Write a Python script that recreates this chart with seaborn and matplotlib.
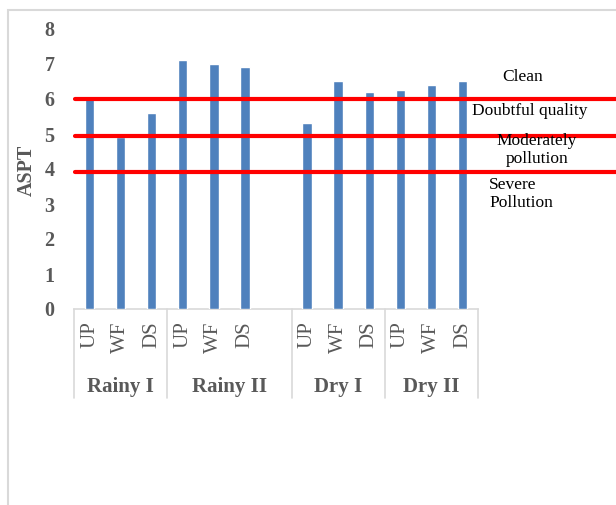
import numpy as np
import pandas as pd
import matplotlib
matplotlib.use("Agg")
import matplotlib.pyplot as plt
import matplotlib.transforms as mtransforms
from matplotlib.patches import Rectangle
import seaborn as sns

# Seasons and sampling stations; Rainy II carries one blank slot after DS
seasons = ["Rainy I", "Rainy II", "Dry I", "Dry II"]
stations = [["UP", "WF", "DS"], ["UP", "WF", "DS", ""], ["UP", "WF", "DS"], ["UP", "WF", "DS"]]
aspt = [[6.0, 4.9, 5.6], [7.1, 7.0, 6.9, np.nan], [5.3, 6.5, 6.2], [6.25, 6.4, 6.5]]

# Water-quality class thresholds and their labels
thresholds = [6.0, 4.93, 3.9]
class_labels = ["Clean", "Doubtful quality", "Moderately\npollution", "Severe\nPollution"]

y_ticks = [0, 1, 2, 3, 4, 5, 6, 7, 8]

rows = []
for s, sts, vals in zip(seasons, stations, aspt):
    for st, v in zip(sts, vals):
        rows.append({"slot": f"{s}|{st}", "season": s, "station": st, "ASPT": v})
df = pd.DataFrame(rows)
order = list(df["slot"])

sns.set_theme(style="white")
plt.rcParams["font.family"] = ["Liberation Serif", "DejaVu Serif"]

gray = "#595959"
fig = plt.figure(figsize=(6.16, 5.05), dpi=100)
ax = fig.add_axes([74 / 616, 1 - 309 / 505, 404 / 616, 280 / 505])

# outer chart-area frame
fig.patches.append(Rectangle((8 / 616, -0.2), 1.2, (505 - 10) / 505 + 0.2,
                             transform=fig.transFigure, fill=False,
                             edgecolor="#d9d9d9", linewidth=1.5, zorder=0))

sns.barplot(data=df, x="slot", y="ASPT", order=order, color="#4f81bd",
            width=0.3, saturation=1, errorbar=None, ax=ax, zorder=3)

ax.set_ylim(0, 8)
ax.set_xlim(-0.5, len(order) - 0.5)
ax.set_yticks(y_ticks)
ax.set_yticklabels([str(t) for t in y_ticks], fontsize=14.5, fontweight="bold", color=gray)
ax.tick_params(axis="y", length=0, pad=14)

ax.set_xticks(range(len(order)))
ax.set_xticklabels(list(df["station"]), rotation=90, fontsize=15, color=gray, va="top")
ax.tick_params(axis="x", length=0, pad=9)
ax.set_xlabel("")

ax.set_ylabel("ASPT", fontsize=14.5, fontweight="bold", color=gray)
ax.yaxis.set_label_coords(-0.092, 0.494)

for side in ["left", "right", "top"]:
    ax.spines[side].set_visible(False)
ax.spines["bottom"].set_color("#d9d9d9")
ax.spines["bottom"].set_linewidth(1.2)

# season group separators and labels below the axis
blend = mtransforms.blended_transform_factory(ax.transData, ax.transAxes)
bounds = [-0.5]
for sts in stations:
    bounds.append(bounds[-1] + len(sts))
for b in bounds:
    ax.plot([b, b], [0, -0.318], transform=blend, color="#d9d9d9", lw=1.2, clip_on=False)
for s, lo, hi in zip(seasons, bounds[:-1], bounds[1:]):
    ax.text((lo + hi) / 2, -0.278, s, transform=blend, ha="center", va="center",
            fontsize=15, fontweight="bold", color=gray)

# class threshold lines running past the plot edge
for t in thresholds:
    ax.axhline(t, xmin=0.003, xmax=1.4, color="#ff0000", lw=3, clip_on=False, zorder=4)

# class labels on the right
txt_kw = dict(transform=fig.transFigure, fontsize=12.5, color="black")
fig.text(523 / 616, 1 - 77 / 505, class_labels[0], ha="center", va="center", **txt_kw)
fig.text(530 / 616, 1 - 111 / 505, class_labels[1], ha="center", va="center", **txt_kw)
fig.text(537 / 616, 1 - 150 / 505, class_labels[2], ha="center", va="center",
         linespacing=1.2, **txt_kw)
fig.text(489 / 616, 1 - 194 / 505, class_labels[3], ha="left", va="center",
         linespacing=1.2, **txt_kw)

fig.savefig("out.png", dpi=100)
